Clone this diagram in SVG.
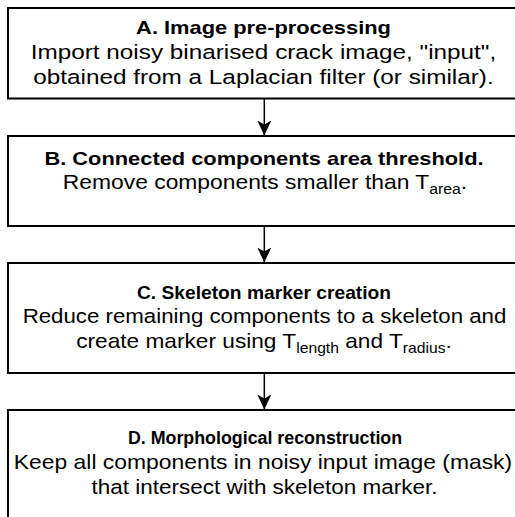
<svg xmlns="http://www.w3.org/2000/svg" width="515" height="517" viewBox="0 0 515 517">
<defs>
<style>
.box{fill:#fff;stroke:#000;stroke-width:2}
.t{font-family:"Liberation Sans",Arial,sans-serif;font-size:18.2px;font-weight:bold;text-anchor:middle;fill:#000}
.b{font-family:"Liberation Sans",Arial,sans-serif;font-size:20.25px;text-anchor:middle;fill:#000}
.sub{font-size:14px}
.edge{stroke:#000;stroke-width:1.5;fill:none}
</style>
<marker id="arr" viewBox="0 0 15 14" refX="15" refY="7" markerWidth="15" markerHeight="14" markerUnits="userSpaceOnUse" orient="auto">
<path d="M0,0 L15,7 L0,14 L4,7 Z" fill="#000"/>
</marker>
</defs>
<rect width="515" height="517" fill="#fff"/>
<g id="connectors">
<line class="edge" x1="264.3" y1="99" x2="264.3" y2="135.5" marker-end="url(#arr)"/>
<line class="edge" x1="264.3" y1="227" x2="264.3" y2="262.5" marker-end="url(#arr)"/>
<line class="edge" x1="264.3" y1="374" x2="264.3" y2="409.5" marker-end="url(#arr)"/>
</g>
<g id="nodeA">
<rect class="box" x="8" y="8" width="513" height="90.5"/>
<g transform="translate(263.5 0) scale(1.2 1)">
<text class="t" x="0" y="34">A. Image pre-processing</text>
<text class="b" x="0" y="59">Import noisy binarised crack image, "input",</text>
<text class="b" x="0" y="84">obtained from a Laplacian filter (or similar).</text>
</g>
</g>
<g id="nodeB">
<rect class="box" x="8" y="136" width="513" height="90"/>
<text class="t" transform="translate(264 0) scale(1.2 1)" x="0" y="165.5">B. Connected components area threshold.</text>
<text class="b" transform="translate(265 0) scale(1.128 1)" x="0" y="189.5">Remove components smaller than T<tspan class="sub" dy="5">area</tspan><tspan dy="-5">.</tspan></text>
</g>
<g id="nodeC">
<rect class="box" x="8" y="263" width="513" height="110"/>
<text class="t" transform="translate(264 0) scale(1.056 1)" x="0" y="299">C. Skeleton marker creation</text>
<text class="b" transform="translate(264.5 0) scale(1.1 1)" x="0" y="323.5">Reduce remaining components to a skeleton and</text>
<text class="b" transform="translate(264 0) scale(1.12 1)" x="0" y="348">create marker using T<tspan class="sub" dy="5">length</tspan><tspan dy="-5"> and T</tspan><tspan class="sub" dy="5">radius</tspan><tspan dy="-5">.</tspan></text>
</g>
<g id="nodeD">
<rect class="box" x="8" y="410" width="513" height="112"/>
<text class="t" transform="translate(265 0) scale(0.98 1)" x="0" y="444.5">D. Morphological reconstruction</text>
<text class="b" transform="translate(263 0) scale(1.13 1)" x="0" y="469">Keep all components in noisy input image (mask)</text>
<text class="b" transform="translate(264.5 0) scale(1.11 1)" x="0" y="494">that intersect with skeleton marker.</text>
</g>
</svg>
